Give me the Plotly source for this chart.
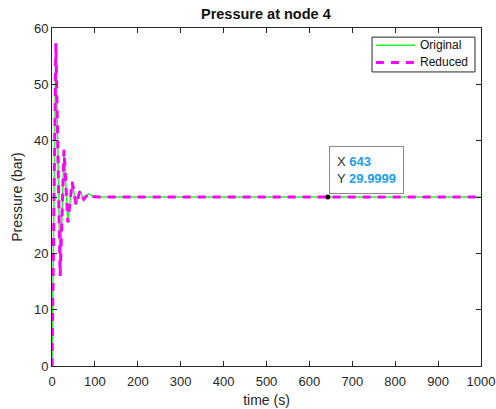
import plotly.graph_objects as go

# Pressure samples at node 4 (time in seconds, pressure in bar)
time_s = [0, 9, 19, 28, 37, 47, 56, 65, 74, 85, 96, 110, 200, 1000]
p_original = [0, 57.3, 16.0, 38.4, 25.5, 32.7, 28.6, 31.1, 29.6, 30.6, 30.1, 30.0, 30.0, 30.0]
p_reduced = [0, 57.3, 16.0, 38.4, 25.5, 32.7, 28.6, 31.1, 29.6, 30.6, 30.1, 30.0, 30.0, 30.0]

# Data tip
tip_x = 643
tip_y = 29.9999

x_ticks = list(range(0, 1001, 100))
y_ticks = list(range(0, 61, 10))

AX = "#262626"
FONT = "Liberation Sans, Arial, Helvetica, sans-serif"
GREEN = "#2af22a"
MAGENTA = "#ff00ff"
DASH = "8px,7px"

fig = go.Figure()
fig.add_trace(go.Scatter(
    x=time_s, y=p_original, mode="lines", name="Original",
    line=dict(color=GREEN, width=1.5), showlegend=False,
))
fig.add_trace(go.Scatter(
    x=time_s, y=p_reduced, mode="lines", name="Reduced",
    line=dict(color=MAGENTA, width=3, dash=DASH), showlegend=False,
))
fig.add_trace(go.Scatter(
    x=[tip_x], y=[tip_y], mode="markers", showlegend=False,
    marker=dict(color="#111111", size=5),
))

# Data tip box
fig.add_annotation(
    x=tip_x, y=tip_y, xref="x", yref="y",
    xanchor="left", yanchor="bottom", xshift=1, yshift=3,
    showarrow=False, align="left",
    text=("X <b><span style='color:#1a9ff2'>643</span></b><br>"
          "Y <b><span style='color:#1a9ff2'>29.9999</span></b>"),
    font=dict(family=FONT, size=13, color="#333333"),
    bgcolor="rgba(255,255,255,0.92)", bordercolor="#8a8a8a",
    borderwidth=1, borderpad=7,
)

# Legend box drawn in axis-domain coordinates
fig.add_shape(type="rect", xref="x domain", yref="y domain",
              x0=0.746, x1=0.986, y0=0.870, y1=0.973,
              line=dict(color=AX, width=1), fillcolor="white", layer="above")
legend_rows = [("Original", 0.949, dict(color=GREEN, width=1.5)),
               ("Reduced", 0.898, dict(color=MAGENTA, width=3, dash=DASH))]
for label, yy, ln in legend_rows:
    fig.add_shape(type="line", xref="x domain", yref="y domain",
                  x0=0.755, x1=0.846, y0=yy, y1=yy, line=ln, layer="above")
    fig.add_annotation(x=0.852, y=yy, xref="x domain", yref="y domain",
                       xanchor="left", yanchor="middle", showarrow=False,
                       text=label, font=dict(size=12, color="#111111"))

fig.update_layout(
    width=496, height=409,
    margin=dict(l=52, r=15, t=28, b=43, autoexpand=False),
    paper_bgcolor="white", plot_bgcolor="white",
    font=dict(family=FONT, size=13, color=AX),
    title=dict(text="<b>Pressure at node 4</b>", x=0.536, xanchor="center",
               y=0.966, yanchor="middle", font=dict(size=14.5, color="#111111")),
    showlegend=False,
)

fig.update_xaxes(
    range=[0, 1000], tickvals=x_ticks, ticks="inside", ticklen=5,
    tickcolor=AX, showline=True, linecolor=AX, linewidth=1, mirror="ticks",
    showgrid=False, zeroline=False, automargin=False, ticklabelstandoff=3,
    title=dict(text="time (s)", font=dict(size=14), standoff=7),
)
fig.update_yaxes(
    range=[0, 60], tickvals=y_ticks, ticks="inside", ticklen=5,
    tickcolor=AX, showline=True, linecolor=AX, linewidth=1, mirror="ticks",
    showgrid=False, zeroline=False, automargin=False,
    title=dict(text="Pressure (bar)", font=dict(size=14), standoff=8),
)

fig.write_html("out.html")
